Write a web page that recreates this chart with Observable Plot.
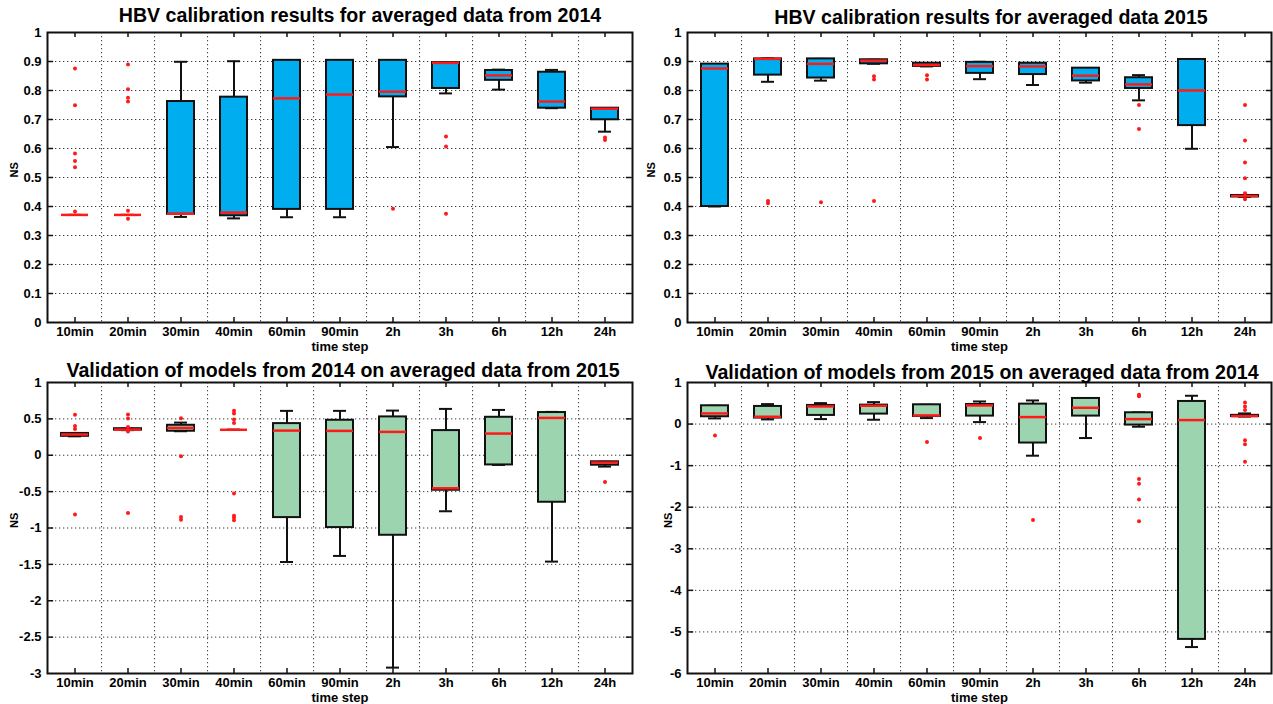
<!DOCTYPE html>
<html>
<head>
<meta charset="utf-8">
<script src="https://cdn.jsdelivr.net/npm/d3@7"></script>
<script src="https://cdn.jsdelivr.net/npm/@observablehq/plot@0.6"></script>
<style>
  html, body { margin: 0; padding: 0; background: white; }
  #root { position: relative; width: 1273px; height: 704px; overflow: hidden; font-family: "Liberation Sans", Arial, sans-serif; }
  .panel { position: absolute; }
  .title { position: absolute; transform: translate(-50%, -50%); white-space: nowrap; font-weight: bold; font-size: 19.6px; color: #000; }
</style>
</head>
<body>
<div id="root"></div>
<script>
// ---------- data ----------
const categories = ["10min","20min","30min","40min","60min","90min","2h","3h","6h","12h","24h"];

const titles = [
  "HBV calibration results for averaged data from 2014",
  "HBV calibration results for averaged data 2015",
  "Validation of models from 2014 on averaged data from 2015",
  "Validation of models from 2015 on averaged data from 2014"
];

const yTicksCal = [0, 0.1, 0.2, 0.3, 0.4, 0.5, 0.6, 0.7, 0.8, 0.9, 1];
const yTicksVal2015 = [-3, -2.5, -2, -1.5, -1, -0.5, 0, 0.5, 1];
const yTicksVal2014 = [-6, -5, -4, -3, -2, -1, 0, 1];

// Panel A: calibration 2014
const cal2014_lo  = [0.371,0.371,0.364,0.359,0.363,0.363,0.605,0.790,0.803,0.739,0.658];
const cal2014_q1  = [0.371,0.371,0.373,0.368,0.390,0.390,0.778,0.807,0.835,0.739,0.699];
const cal2014_med = [0.371,0.371,0.375,0.379,0.773,0.786,0.796,0.895,0.852,0.762,0.737];
const cal2014_q3  = [0.371,0.371,0.762,0.777,0.904,0.904,0.904,0.896,0.869,0.863,0.739];
const cal2014_hi  = [0.371,0.371,0.899,0.901,0.904,0.904,0.904,0.896,0.872,0.871,0.739];
const cal2014_out = [[0.876,0.749,0.583,0.557,0.535,0.383],[0.890,0.804,0.775,0.762,0.385,0.358],[],[],[],[],[0.392],[0.641,0.607,0.375],[],[],[0.638,0.629]];

// Panel B: calibration 2015
const cal2015_lo  = [0.400,0.830,0.834,0.892,0.883,0.839,0.819,0.827,0.766,0.599,0.433];
const cal2015_q1  = [0.400,0.853,0.843,0.892,0.883,0.859,0.855,0.833,0.807,0.679,0.433];
const cal2015_med = [0.876,0.909,0.892,0.903,0.888,0.884,0.883,0.851,0.821,0.800,0.436];
const cal2015_q3  = [0.891,0.909,0.909,0.906,0.894,0.897,0.894,0.877,0.844,0.907,0.438];
const cal2015_hi  = [0.891,0.911,0.909,0.906,0.894,0.899,0.894,0.877,0.853,0.907,0.438];
const cal2015_out = [[],[0.419,0.411],[0.415],[0.849,0.838,0.419],[0.853,0.838],[],[],[],[0.750,0.667],[],[0.750,0.628,0.552,0.497,0.446,0.425]];

// Panel C: validation of 2014 models on 2015 data
const val1415_lo  = [0.260,0.345,0.330,0.350,-1.467,-1.384,-2.919,-0.770,-0.133,-1.462,-0.156];
const val1415_q1  = [0.260,0.345,0.330,0.350,-0.857,-0.994,-1.100,-0.481,-0.133,-0.646,-0.137];
const val1415_med = [0.285,0.353,0.376,0.350,0.339,0.335,0.321,-0.454,0.298,0.513,-0.101];
const val1415_q3  = [0.300,0.365,0.412,0.350,0.435,0.481,0.527,0.339,0.522,0.587,-0.090];
const val1415_hi  = [0.300,0.365,0.449,0.350,0.610,0.610,0.614,0.637,0.623,0.596,-0.090];
const val1415_out = [[0.555,0.403,0.362,-0.816],[0.559,0.504,0.390,0.325,-0.793],[0.509,-0.014,-0.848,-0.885],[0.610,0.573,0.490,0.445,-0.527,-0.830,-0.860,-0.894],[],[],[],[],[],[],[-0.367]];

// Panel D: validation of 2015 models on 2014 data
const val1514_lo  = [0.136,0.112,0.120,0.104,0.144,0.048,-0.761,-0.336,-0.064,-5.364,0.180];
const val1514_q1  = [0.176,0.144,0.208,0.240,0.184,0.192,-0.456,0.192,-0.024,-5.180,0.180];
const val1514_med = [0.256,0.176,0.424,0.440,0.208,0.448,0.168,0.392,0.120,0.096,0.192];
const val1514_q3  = [0.440,0.424,0.448,0.456,0.464,0.472,0.480,0.616,0.272,0.544,0.210];
const val1514_hi  = [0.440,0.480,0.504,0.528,0.464,0.544,0.568,0.616,0.280,0.681,0.256];
const val1514_out = [[-0.272],[],[],[],[-0.432],[-0.336],[-2.306],[],[0.705,0.670,-1.321,-1.433,-1.817,-2.338],[],[0.520,0.424,0.336,-0.392,-0.488,-0.905]];

const blueFill = "#00aeef";
const greenFill = "#9bd4ae";

// ---------- drawing ----------
function boxPanel(cfg) {
  const rows = categories.map((c, i) => ({cat: c, lo: cfg.lo[i], q1: cfg.q1[i], med: cfg.med[i], q3: cfg.q3[i], hi: cfg.hi[i]}));
  const outs = categories.flatMap((c, i) => cfg.out[i].map(v => ({cat: c, v})));
  const innerW = cfg.width - cfg.marginLeft - cfg.marginRight;
  const innerH = cfg.height - cfg.marginTop - cfg.marginBottom;
  const step = innerW / categories.length;
  const band = step * 0.5, outer = step * 0.25;
  const tickLen = 5;
  const dotted = {stroke: "#3a3a3a", strokeWidth: 1, strokeDasharray: "1.3,2.7"};
  const first = categories[0], last = categories[categories.length - 1];
  const inner = cfg.ticks.slice(1, -1);
  return Plot.plot({
    width: cfg.width,
    height: cfg.height,
    marginLeft: cfg.marginLeft,
    marginRight: cfg.marginRight,
    marginTop: cfg.marginTop,
    marginBottom: cfg.marginBottom,
    style: {fontFamily: "'Liberation Sans', Arial, sans-serif", fontSize: "13px", fontWeight: "bold", color: "#000", background: "white", overflow: "visible"},
    x: {domain: categories, paddingInner: 0.5, paddingOuter: 0.25, tickSize: 0, tickPadding: 4, label: null},
    y: {domain: cfg.domain, ticks: cfg.ticks, tickSize: 0, tickPadding: 6, tickFormat: d => String(d), label: null},
    marks: [
      Plot.ruleY(inner, {...dotted}),
      Plot.ruleX(categories.slice(0, -1), {...dotted, dx: step / 2}),
      // inward ticks on the frame
      Plot.tickX(categories, {stroke: "#111", strokeWidth: 1.5, insetBottom: innerH - tickLen}),
      Plot.tickX(categories, {stroke: "#111", strokeWidth: 1.5, insetTop: innerH - tickLen}),
      Plot.tickY(inner, {x: () => first, y: d => d, stroke: "#111", strokeWidth: 1.5, insetLeft: -outer, insetRight: outer + band - tickLen}),
      Plot.tickY(inner, {x: () => last, y: d => d, stroke: "#111", strokeWidth: 1.5, insetLeft: outer + band - tickLen, insetRight: -outer}),
      // boxes
      Plot.ruleX(rows, {x: "cat", y1: "lo", y2: "hi", stroke: "#111", strokeWidth: 2}),
      Plot.tickY(rows, {x: "cat", y: "lo", stroke: "#111", strokeWidth: 2, insetLeft: 7, insetRight: 7}),
      Plot.tickY(rows, {x: "cat", y: "hi", stroke: "#111", strokeWidth: 2, insetLeft: 7, insetRight: 7}),
      Plot.barY(rows, {x: "cat", y1: "q1", y2: "q3", fill: cfg.fill, stroke: "#111", strokeWidth: 2}),
      Plot.tickY(rows, {x: "cat", y: "med", stroke: "#ff1a1a", strokeWidth: 2.5}),
      Plot.dot(outs, {x: "cat", y: "v", r: 2, fill: "#ff1a1a", stroke: "none"}),
      Plot.frame({stroke: "#111", strokeWidth: 2}),
      Plot.text(["time step"], {text: d => d, frameAnchor: "bottom", dy: cfg.xLabelDy, fontSize: 13, fontWeight: "bold"}),
      Plot.text(["NS"], {text: d => d, frameAnchor: "left", rotate: -90, dx: cfg.yLabelDx, fontSize: 11, fontWeight: "bold"})
    ]
  });
}

const root = document.getElementById("root");

const panels = [
  {left: 0, top: 22, width: 640, height: 330, marginLeft: 47, marginRight: 8, marginTop: 10, marginBottom: 30,
   domain: [0, 1], ticks: yTicksCal, fill: blueFill, xLabelDy: 28, yLabelDx: -33,
   lo: cal2014_lo, q1: cal2014_q1, med: cal2014_med, q3: cal2014_q3, hi: cal2014_hi, out: cal2014_out,
   title: titles[0], tx: 360, ty: 15},
  {left: 640, top: 22, width: 633, height: 330, marginLeft: 47, marginRight: 2, marginTop: 10, marginBottom: 30,
   domain: [0, 1], ticks: yTicksCal, fill: blueFill, xLabelDy: 28, yLabelDx: -36,
   lo: cal2015_lo, q1: cal2015_q1, med: cal2015_med, q3: cal2015_q3, hi: cal2015_hi, out: cal2015_out,
   title: titles[1], tx: 991, ty: 17},
  {left: 0, top: 372, width: 640, height: 332, marginLeft: 47, marginRight: 8, marginTop: 10, marginBottom: 31,
   domain: [-3, 1], ticks: yTicksVal2015, fill: greenFill, xLabelDy: 28, yLabelDx: -33,
   lo: val1415_lo, q1: val1415_q1, med: val1415_med, q3: val1415_q3, hi: val1415_hi, out: val1415_out,
   title: titles[2], tx: 343, ty: 370},
  {left: 640, top: 372, width: 633, height: 332, marginLeft: 47, marginRight: 2, marginTop: 10, marginBottom: 31,
   domain: [-6, 1], ticks: yTicksVal2014, fill: greenFill, xLabelDy: 28, yLabelDx: -19,
   lo: val1514_lo, q1: val1514_q1, med: val1514_med, q3: val1514_q3, hi: val1514_hi, out: val1514_out,
   title: titles[3], tx: 982, ty: 372}
];

for (const p of panels) {
  const div = document.createElement("div");
  div.className = "panel";
  div.style.left = p.left + "px";
  div.style.top = p.top + "px";
  div.appendChild(boxPanel(p));
  root.appendChild(div);
}
for (const p of panels) {
  const t = document.createElement("div");
  t.className = "title";
  t.style.left = p.tx + "px";
  t.style.top = p.ty + "px";
  t.textContent = p.title;
  root.appendChild(t);
}
</script>
</body>
</html>
